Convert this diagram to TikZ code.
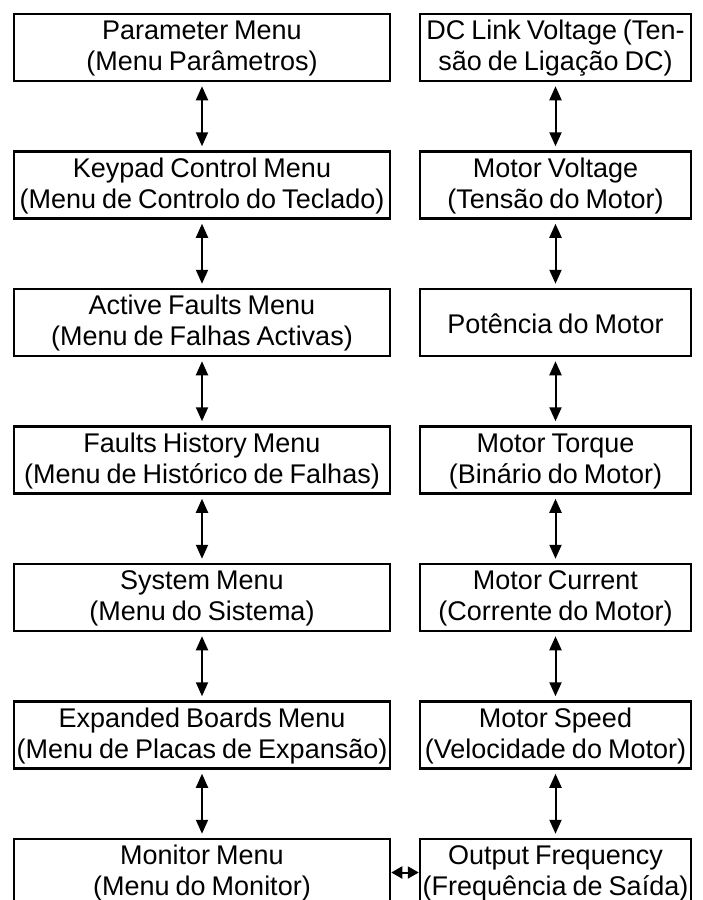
\documentclass[tikz,border=0pt]{standalone}
\usepackage{fontspec}
\setmainfont{Liberation Sans}[WordSpace=0.8]
\usetikzlibrary{arrows.meta}
\begin{document}
\begin{tikzpicture}[x=1pt,y=-1pt,
  box/.style={draw, line width=2.5pt, rectangle, inner sep=0pt, minimum height=67pt},
  lbox/.style={box, minimum width=376pt},
  rbox/.style={box, minimum width=271pt},
  txt/.style={inner sep=0pt, align=center, font=\fontsize{27}{31}\selectfont},
  arr/.style={line width=2pt, {Triangle[length=14pt,width=12pt]}-{Triangle[length=14pt,width=12pt]}, shorten >=4pt, shorten <=4pt},
  harr/.style={line width=2pt, {Triangle[length=11pt,width=12pt]}-{Triangle[length=11pt,width=12pt]}}
]
\useasboundingbox (0,0) rectangle (702,900);
\clip (0,0) rectangle (702,900);
\foreach \n/\x/\y/\t in {
  l1/202/47.5/{Parameter Menu\\(Menu Parâmetros)},
  l2/202/185/{Keypad Control Menu\\(Menu de Controlo do Teclado)},
  l3/202/322.5/{Active Faults Menu\\(Menu de Falhas Activas)},
  l4/202/460/{Faults History Menu\\(Menu de Histórico de Falhas)},
  l5/202/597.5/{System Menu\\(Menu do Sistema)},
  l6/202/735/{Expanded Boards Menu\\(Menu de Placas de Expansão)},
  l7/202/872.5/{Monitor Menu\\(Menu do Monitor)}}{
  \node[lbox] (\n) at (\x,\y) {};
  \node[txt] (\n t) at (\x,\y+1) {\t};
}
\foreach \n/\x/\y/\t in {
  r1/555.5/47.5/{DC Link Voltage (Ten-\\são de Ligação DC)},
  r2/555.5/185/{Motor Voltage\\(Tensão do Motor)},
  r3/555.5/322.5/{Potência do Motor},
  r4/555.5/460/{Motor Torque\\(Binário do Motor)},
  r5/555.5/597.5/{Motor Current\\(Corrente do Motor)},
  r6/555.5/735/{Motor Speed\\(Velocidade do Motor)},
  r7/555.5/872.5/{Output Frequency\\(Frequência de Saída)}}{
  \node[rbox] (\n) at (\x,\y) {};
  \node[txt] (\n t) at (\x,\y+1) {\t};
}
\foreach \a/\b in {1/2,2/3,3/4,4/5,5/6,6/7}{
  \draw[arr] (l\a.south) -- (l\b.north);
  \draw[arr] (r\a.south) -- (r\b.north);
}
\draw[harr] (l7.east) -- (r7.west);
\end{tikzpicture}
\end{document}
